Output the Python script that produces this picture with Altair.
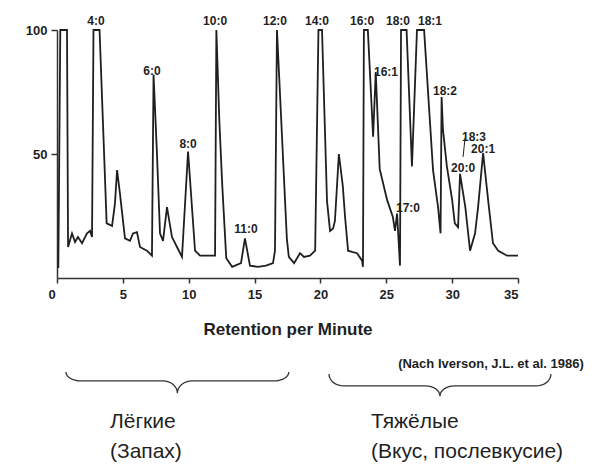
import math
import altair as alt
import pandas as pd

# ---- chromatogram trace (retention time in minutes, detector response) ----
rt = [0.10, 0.25, 0.76, 0.84, 1.14, 1.37, 1.59, 1.90, 2.28, 2.51, 2.66, 2.77, 3.23,
      3.77, 4.18, 4.40, 4.56, 4.78, 5.16, 5.54, 5.77, 6.07, 6.30, 6.83, 7.21, 7.33,
      7.59, 7.82, 8.05, 8.35, 8.73, 9.11, 9.49, 9.95, 10.48, 10.86, 12.0, 12.1,
      12.32, 12.55, 12.85, 13.3, 13.97, 14.27, 14.65, 15.26, 15.87, 16.4, 16.55,
      16.7, 17.45, 17.6, 18.0, 18.45, 18.75, 19.2, 19.6, 19.85, 20.12, 20.5, 20.73,
      20.96, 21.1, 21.4, 21.7, 21.87, 22.1, 22.4, 22.78, 23.16, 23.23, 23.3, 23.6,
      24.0, 24.2, 24.5, 25.06, 25.5, 25.66, 25.82, 26.04, 26.12, 26.54, 26.95,
      27.33, 27.87, 28.55, 28.93, 29.12, 29.2, 29.3, 29.6, 30.0, 30.2, 30.45,
      30.6, 31.0, 31.36, 31.74, 31.97, 32.35, 32.73, 33.1, 33.5, 34.17, 35.0]
resp = [4, 100, 100, 12.5, 18, 14.5, 16.5, 14, 18, 19, 16.5, 100, 100,
        22, 21, 30, 43.5, 34, 16, 15, 18, 18.5, 12.5, 11, 9, 82,
        50, 18, 15, 28.6, 16.5, 12.5, 8.5, 51, 11, 9, 9, 100,
        64, 37, 8, 4.5, 6, 16, 5, 4.5, 5, 6, 11,
        100, 16, 8.5, 6, 10, 8.5, 9, 11, 100, 100, 31, 19,
        20, 23, 50, 37, 24.6, 11, 10.5, 10, 7, 4.5, 100, 100,
        57, 83, 44, 31.5, 24.6, 19, 26, 5, 100, 100, 45,
        100, 100, 43.5, 28.6, 18, 73, 60, 45, 31.5, 22, 20.5,
        42, 28.6, 11, 18, 28.6, 50.4, 31.5, 14, 11, 9, 9]

# ---- peak labels (fatty acids) ----
peak_names = ["4:0", "6:0", "8:0", "10:0", "11:0", "12:0", "14:0", "16:0", "16:1",
              "17:0", "18:0", "18:1", "18:2", "20:0", "18:3", "20:1"]
peak_lx = [2.96, 7.21, 9.95, 12.0, 14.35, 16.55, 19.74, 23.16, 24.98,
           26.65, 25.89, 28.32, 29.46, 30.83, 31.66, 32.35]
peak_ly = [103.6, 83.5, 54.0, 103.6, 19.8, 103.6, 103.6, 103.6, 83.1,
           28.2, 103.6, 103.6, 75.4, 44.4, 56.9, 52.0]

# leader line from "18:3" label
leader_x = [30.98, 30.83]
leader_y = [56.5, 48.8]

# ---- braces below the axis ----
brace_names = ["light", "heavy"]
brace_x0 = [0.68, 20.65]
brace_x1 = [17.6, 37.5]
brace_y_end = [-37.9, -38.7]
brace_y_flat = [-41.5, -43.5]
brace_y_tip = [-46.4, -47.6]

# ---- annotation texts ----
group_lines = ["Лёгкие", "(Запах)", "Тяжёлые", "(Вкус, послевкусие)"]
group_x = [4.02, 4.02, 23.84, 23.84]
group_y = [-60.5, -72.4, -60.5, -72.4]
citation = "(Nach Iverson, J.L. et al. 1986)"
citation_x = [40.0]
citation_y = [-34.7]

FONT = "Liberation Sans"
INK = "#1f1f1f"

xs = alt.Scale(domain=[0, 35], nice=False, zero=False)
ys = alt.Scale(domain=[0, 100], nice=False)

trace_df = pd.DataFrame({"x": rt, "y": resp})

trace = alt.Chart(trace_df).mark_line(color=INK, strokeWidth=1.8, strokeJoin="miter").encode(
    x=alt.X("x:Q", scale=xs,
            axis=alt.Axis(values=[0, 5, 10, 15, 20, 25, 30, 35], title="Retention per Minute",
                          grid=False, tickSize=5, labelPadding=5,
                          labelOffset={"condition": {"test": "datum.value === 0", "value": -9}, "value": 0},
                          titleY=51, titleBaseline="middle", titleFontSize=17, titleFontWeight="bold")),
    y=alt.Y("y:Q", scale=ys,
            axis=alt.Axis(values=[50, 100], title=None, grid=False, tickSize=6, labelPadding=4)),
)

labels_df = pd.DataFrame({"x": peak_lx, "y": peak_ly, "t": peak_names})
labels = alt.Chart(labels_df).mark_text(font=FONT, fontSize=12, fontWeight="bold", color=INK,
                                        baseline="middle", align="center").encode(
    x=alt.X("x:Q", scale=xs), y=alt.Y("y:Q", scale=ys), text="t:N")

leader_df = pd.DataFrame({"x": leader_x, "y": leader_y})
leader = alt.Chart(leader_df).mark_line(color=INK, strokeWidth=1).encode(
    x=alt.X("x:Q", scale=xs), y=alt.Y("y:Q", scale=ys))

# brace outlines built from the spans above
rows = []
for name, x0, x1, ye, yf, yt in zip(brace_names, brace_x0, brace_x1, brace_y_end, brace_y_flat, brace_y_tip):
    xm = (x0 + x1) / 2
    a = 1.1
    pts = []
    for k in range(9):
        th = math.pi + k * (math.pi / 2) / 8
        pts.append((x0 + a + a * math.cos(th), ye + (ye - yf) * math.sin(th)))
    for k in range(9):
        th = math.pi / 2 - k * (math.pi / 2) / 8
        pts.append((xm - a + a * math.cos(th), yt + (yf - yt) * math.sin(th)))
    right = [(2 * xm - px, py) for px, py in reversed(pts)]
    pts = pts + right[1:]
    for i, (px, py) in enumerate(pts):
        rows.append({"b": name, "i": i, "x": px, "y": py})
brace_df = pd.DataFrame(rows)
braces = alt.Chart(brace_df).mark_line(color="#333333", strokeWidth=1.3).encode(
    x=alt.X("x:Q", scale=xs), y=alt.Y("y:Q", scale=ys), detail="b:N", order="i:Q")

groups_df = pd.DataFrame({"x": group_x, "y": group_y, "t": group_lines})
groups = alt.Chart(groups_df).mark_text(font=FONT, fontSize=21, color=INK,
                                        align="left", baseline="alphabetic").encode(
    x=alt.X("x:Q", scale=xs), y=alt.Y("y:Q", scale=ys), text="t:N")

cite_df = pd.DataFrame({"x": citation_x, "y": citation_y, "t": [citation]})
cite = alt.Chart(cite_df).mark_text(font=FONT, fontSize=13, fontWeight="bold", color=INK,
                                    align="right", baseline="middle").encode(
    x=alt.X("x:Q", scale=xs), y=alt.Y("y:Q", scale=ys), text="t:N")

chart = alt.layer(trace, labels, leader, braces, groups, cite).properties(
    width=461, height=248,
    autosize=alt.AutoSizeParams(type="none"),
    padding={"left": 49, "top": 22, "right": 70, "bottom": 184},
    background="white",
).configure_view(stroke=None).configure_axis(
    domainColor="#333333", domainWidth=1.5, tickColor="#333333", tickWidth=1.5,
    labelColor=INK, labelFont=FONT, labelFontSize=13, labelFontWeight="bold",
    titleColor=INK, titleFont=FONT,
)

chart.save("out.html", embed_options={"renderer": "svg", "actions": False})
